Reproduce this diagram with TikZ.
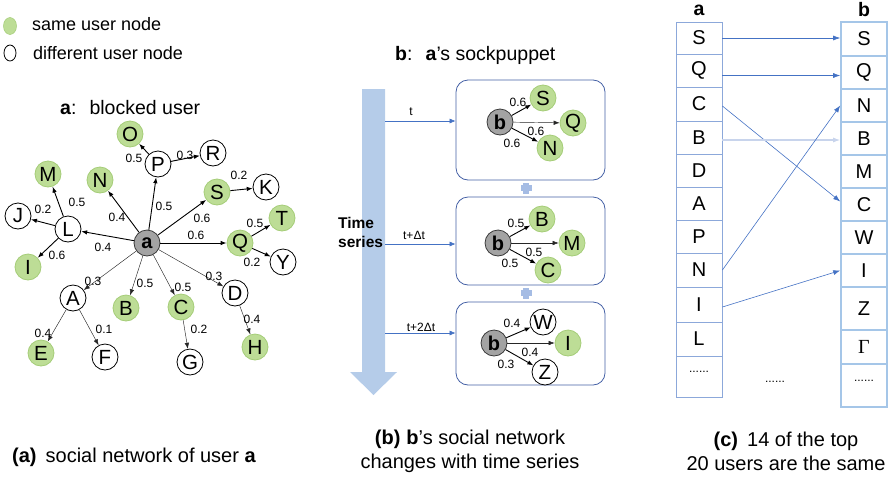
\documentclass[tikz,border=0pt]{standalone}
\usepackage{fontspec}
\setmainfont{Liberation Sans}
\newfontfamily\gserif{Liberation Serif}
\usetikzlibrary{arrows.meta,shapes.geometric}
\definecolor{gfill}{RGB}{189,221,150}
\definecolor{gdraw}{RGB}{165,205,120}
\definecolor{boxblue}{RGB}{68,96,165}
\definecolor{arrblue}{RGB}{68,114,196}
\definecolor{bigarr}{RGB}{181,204,233}
\definecolor{cola}{RGB}{140,168,218}
\definecolor{colb}{RGB}{165,198,232}
\definecolor{plusc}{RGB}{165,188,228}
\definecolor{paleb}{RGB}{200,212,236}
\begin{document}
\begin{tikzpicture}[x=1pt,y=-1pt,
  every node/.style={inner sep=0pt, font=\fontsize{18}{20}\selectfont},
  usr/.style={circle, draw=black, line width=0.8pt, minimum size=26pt, fill=white, font=\fontsize{20.5}{20}\selectfont},
  same/.style={usr, draw=gdraw, fill=gfill},
  hub/.style={usr, fill=gray!72, draw=gray!45!black, font=\bfseries\fontsize{20}{20}\selectfont},
  lbl/.style={font=\fontsize{12}{12}\selectfont},
  strong/.style={-{Latex[length=6pt,width=4.5pt]}, line width=0.9pt},
  weak/.style={-{Latex[length=6pt,width=4.5pt]}, line width=0.45pt, draw=black!85},
  tbox/.style={draw=boxblue, line width=0.8pt, rounded corners=12pt, minimum width=149pt},
  tarr/.style={arrblue, line width=0.6pt, -{Latex[length=6pt,width=5pt]}},
  cella/.style={draw=cola, line width=0.8pt, minimum width=46pt, font=\fontsize{20}{20}\selectfont},
  cellb/.style={draw=colb, line width=1.6pt, minimum width=46pt, font=\fontsize{20}{20}\selectfont},
  carr/.style={arrblue, line width=0.6pt, -{Latex[length=7pt,width=5pt]}},
  captxt/.style={font=\fontsize{20}{24}\selectfont, align=center}
]
\useasboundingbox (0,0) rectangle (890,477);

% legend
\node[ellipse, minimum width=13pt, minimum height=17pt, draw=gdraw, fill=gfill, line width=0.5pt] (lg1) at (10,26) {};
\node[ellipse, minimum width=12pt, minimum height=16pt, draw=black, line width=0.8pt] (lg2) at (10,53) {};
\node[anchor=west] (lt1) at (32,24) {same user node};
\node[anchor=west] (lt2) at (33,53) {different user node};

% (a) network
\node[anchor=west, font=\fontsize{19.5}{22}\selectfont] (ta) at (60,108) {\textbf{a}:\hspace{13pt}blocked user};
\node[hub] (a) at (147,243) {a};
\node[same] (O) at (130,134) {O};
\node[usr] (P) at (158,164) {P};
\node[usr] (R) at (213,153) {R};
\node[same] (M) at (48,174) {M};
\node[same] (N) at (100,180) {N};
\node[same] (S) at (217,192) {S};
\node[usr] (K) at (266,187) {K};
\node[usr] (J) at (18,216) {J};
\node[usr] (L) at (68,229) {L};
\node[same] (T) at (282,218) {T};
\node[same] (Q) at (240,243) {Q};
\node[usr] (Y) at (283,262) {Y};
\node[same] (I) at (28,267) {I};
\node[usr] (A) at (73,298) {A};
\node[same] (B) at (126,308) {B};
\node[same] (C) at (181,307) {C};
\node[usr] (D) at (235,293) {D};
\node[same] (E) at (41,353) {E};
\node[usr] (F) at (105,357) {F};
\node[usr] (G) at (190,362) {G};
\node[same] (H) at (255,347) {H};

\draw[strong] (a) -- (L);
\draw[strong] (L) -- (J);
\draw[strong] (L) -- (M);
\draw[strong] (L) -- (I);
\draw[strong] (a) -- (N);
\draw[strong] (a) -- (P);
\draw[strong] (P) -- (O);
\draw[strong] (P) -- (R);
\draw[strong] (a) -- (S);
\draw[strong] (S) -- (K);
\draw[strong] (a) -- (Q);
\draw[strong] (Q) -- (T);
\draw[strong] (Q) -- (Y);
\draw[weak] (a) -- (A);
\draw[weak] (a) -- (B);
\draw[weak] (a) -- (C);
\draw[weak] (a) -- (D);
\draw[weak] (A) -- (E);
\draw[weak] (A) -- (F);
\draw[weak] (C) -- (G);
\draw[weak] (D) -- (H);

\node[lbl] (l1) at (103,247) {0.4};
\node[lbl] (l2) at (43,209) {0.2};
\node[lbl] (l3) at (77,202) {0.5};
\node[lbl] (l4) at (57,255) {0.6};
\node[lbl] (l5) at (117,217) {0.4};
\node[lbl] (l6) at (164,206) {0.5};
\node[lbl] (l7) at (134,158) {0.5};
\node[lbl] (l8) at (185,155) {0.3};
\node[lbl] (l9) at (202,218) {0.6};
\node[lbl] (l10) at (239,175) {0.2};
\node[lbl] (l11) at (196,235) {0.6};
\node[lbl] (l12) at (255,223) {0.5};
\node[lbl] (l13) at (252,262) {0.2};
\node[lbl] (l14) at (93,281) {0.3};
\node[lbl] (l15) at (145,283) {0.5};
\node[lbl] (l16) at (183,287) {0.5};
\node[lbl] (l17) at (214,276) {0.3};
\node[lbl] (l18) at (43,333) {0.4};
\node[lbl] (l19) at (104,329) {0.1};
\node[lbl] (l20) at (199,329) {0.2};
\node[lbl] (l21) at (252,319) {0.4};

% (b) time series
\node[anchor=west, font=\fontsize{19.5}{22}\selectfont] (tb) at (395,55) {\textbf{b}:\hspace{13pt}\textbf{a}'s sockpuppet};
\fill[bigarr] (362,89) -- (385,89) -- (385,372) -- (397,372) -- (373.5,395) -- (350,372) -- (362,372) -- cycle;
\node[anchor=west, align=left, font=\bfseries\fontsize{15.5}{19}\selectfont] (ts) at (338,232.5) {Time\\series};

\node[tbox, minimum height=100pt] (box1) at (530.5,130) {};
\node[tbox, minimum height=88pt] (box2) at (530.5,241) {};
\node[tbox, minimum height=83pt] (box3) at (530.5,343.5) {};

\fill[plusc] (523,182.5) rectangle (529,193.5);
\fill[plusc] (520.5,185) rectangle (531.5,191);
\fill[plusc] (523,287.5) rectangle (529,298.5);
\fill[plusc] (520.5,290) rectangle (531.5,296);

\coordinate (s1) at (385,121);
\coordinate (s2) at (385,244);
\coordinate (s3) at (385,333);
\draw[tarr] (s1) -- (s1 -| box1.west);
\draw[tarr] (s2) -- (s2 -| box2.west);
\draw[tarr] (s3) -- (s3 -| box3.west);
\node[lbl] (tt1) at (411,112) {t};
\node[lbl] (tt2) at (414,235) {t+Δt};
\node[lbl] (tt3) at (421,327) {t+2Δt};

\node[hub] (b1) at (500,122) {b};
\node[same] (S1) at (543,98) {S};
\node[same] (Q1) at (573,123) {Q};
\node[same] (N1) at (550,148) {N};
\draw[strong] (b1) -- (S1);
\draw[weak] (b1) -- (Q1);
\draw[strong] (b1) -- (N1);
\node[lbl] at (518,102) {0.6};
\node[lbl] at (536,131) {0.6};
\node[lbl] at (512,143) {0.6};

\node[hub] (b2) at (498,243) {b};
\node[same] (B2) at (542,219) {B};
\node[same] (M2) at (572,243) {M};
\node[same] (C2) at (548,270) {C};
\draw[strong] (b2) -- (B2);
\draw[weak] (b2) -- (M2);
\draw[strong] (b2) -- (C2);
\node[lbl] at (516,223) {0.5};
\node[lbl] at (534,252) {0.5};
\node[lbl] at (510,263) {0.5};

\node[hub] (b3) at (494,343) {b};
\node[usr] (W3) at (543,322) {W};
\node[same] (I3) at (568,343) {I};
\node[usr] (Z3) at (545,372) {Z};
\draw[strong] (b3) -- (W3);
\draw[weak] (b3) -- (I3);
\draw[strong] (b3) -- (Z3);
\node[lbl] at (512,323) {0.4};
\node[lbl] at (530,352) {0.4};
\node[lbl] at (506,364) {0.3};

% (c) lists
\node[font=\bfseries\fontsize{19.5}{20}\selectfont] (ha) at (699,10) {a};
\node[font=\bfseries\fontsize{19.5}{20}\selectfont] (hb) at (864,10) {b};

\node[cella, minimum height=32pt] (aS) at (699,38) {S};
\node[cella, minimum height=33pt] (aQ) at (699,70.5) {Q};
\node[cella, minimum height=34pt] (aC) at (699,104) {C};
\node[cella, minimum height=33pt] (aB) at (699,137.5) {B};
\node[cella, minimum height=33pt] (aD) at (699,170.5) {D};
\node[cella, minimum height=33pt] (aA) at (699,203.5) {A};
\node[cella, minimum height=33pt] (aP) at (699,236.5) {P};
\node[cella, minimum height=34pt] (aN) at (699,270) {N};
\node[cella, minimum height=35pt] (aI) at (699,304.5) {I};
\node[cella, minimum height=34pt] (aL) at (699,339) {L};
\node[cella, minimum height=41pt] (aX) at (699,376.5) {};
\node[lbl] (aXt) at (699,372) {......};

\node[cellb, minimum height=34pt] (bS) at (864,39) {S};
\node[cellb, minimum height=33pt] (bQ) at (864,72.5) {Q};
\node[cellb, minimum height=33pt] (bN) at (864,105.5) {N};
\node[cellb, minimum height=33pt] (bB) at (864,138.5) {B};
\node[cellb, minimum height=33pt] (bM) at (864,171.5) {M};
\node[cellb, minimum height=33pt] (bC) at (864,204.5) {C};
\node[cellb, minimum height=33pt] (bW) at (864,237.5) {W};
\node[cellb, minimum height=33pt] (bI) at (864,270.5) {I};
\node[cellb, minimum height=43pt] (bZ) at (864,308.5) {Z};
\node[cellb, minimum height=34pt] (bG) at (864,347) {\gserif Γ};
\node[cellb, minimum height=43pt] (bX) at (864,385.5) {};
\node[lbl] (bXt) at (864,381) {......};

\node[lbl] (mid) at (775,382) {......};

\draw[carr] (aS.east) -- (aS.east -| bS.west);
\draw[carr] ([yshift=-5pt]aQ.east) -- ([yshift=-5pt]aQ.east -| bQ.west);
\draw[carr] ([yshift=-2pt]aC.east) -- ([yshift=3pt]bC.west);
\draw[paleb, line width=1.2pt, -{Latex[length=7pt,width=5pt]}] ([yshift=-2.5pt]aB.east) -- ([yshift=-2.5pt]aB.east -| bB.west);
\draw[carr] (aN.east) -- (bN.west);
\draw[carr] ([yshift=-2.5pt]aI.east) -- (bI.west);

% captions
\node[anchor=west, font=\fontsize{20}{24}\selectfont] (ca) at (12,457) {\textbf{(a)}\hspace{9pt}social network of user \textbf{a}};
\node[captxt] (cb) at (470,451.5) {\textbf{(b)}\hspace{6pt}\textbf{b}'s social network\\changes with time series};
\node[captxt] (cc) at (786,451.5) {\textbf{(c)}\hspace{9pt}14 of the top\\20 users are the same};
\end{tikzpicture}
\end{document}
